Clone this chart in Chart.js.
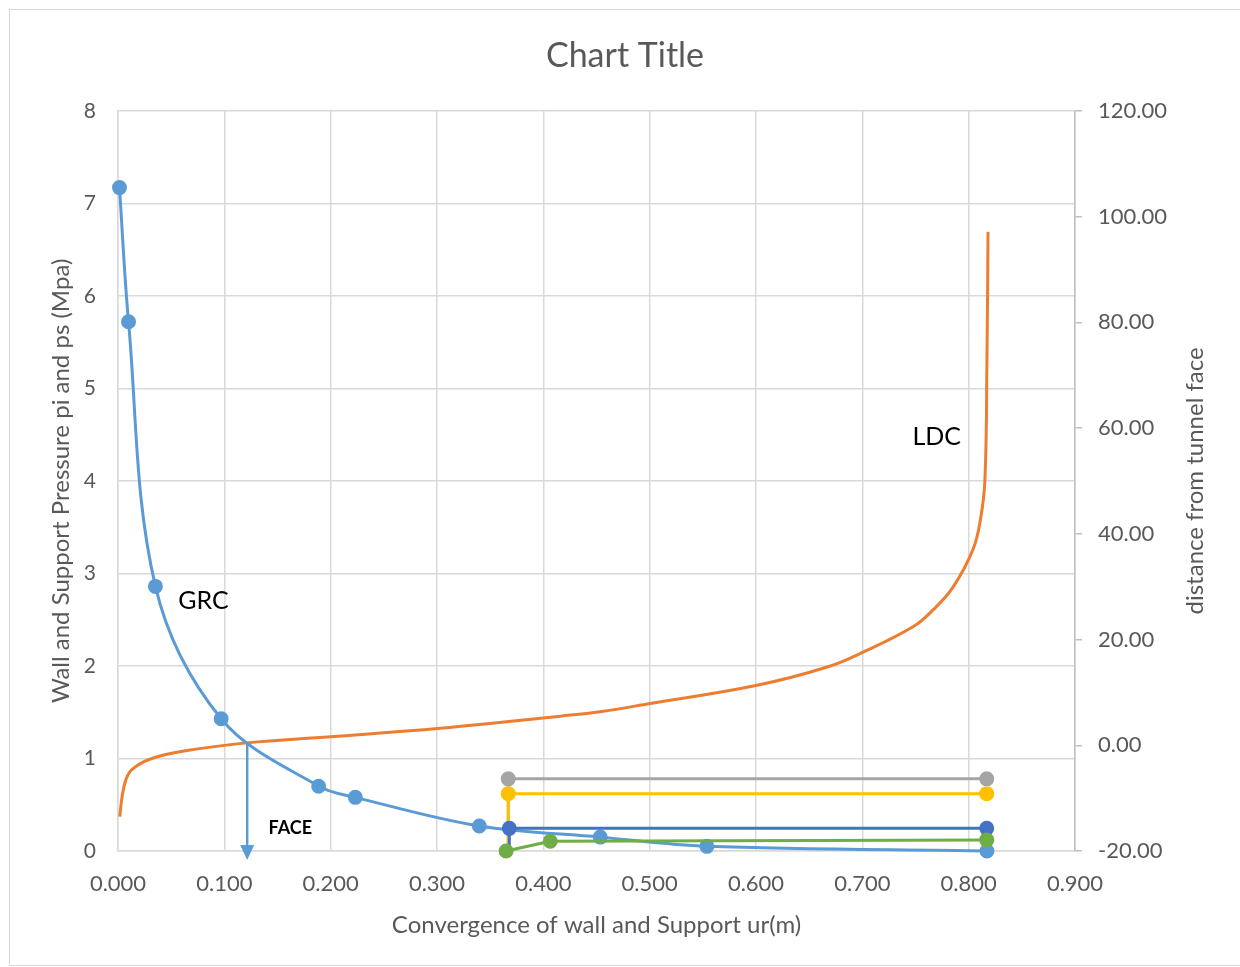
<!DOCTYPE html>
<html>
<head>
<meta charset="utf-8">
<title>GRC / LDC</title>
<script src="https://cdn.jsdelivr.net/npm/chart.js@4.4.1/dist/chart.umd.min.js"></script>
<style>
  body { margin: 0; background: #fff; }
  #frame { position: absolute; left: 9px; top: 9px; width: 1240px; height: 955px; border: 1px solid #d9d9d9; }
  #wrap { position: absolute; left: 0; top: 0; width: 1240px; height: 967px; }
</style>
</head>
<body>
<div id="frame"></div>
<div id="wrap"><canvas id="mycanvas"></canvas></div>
<script>
// ground reaction curve (MPa vs m)
var grcX = [0.0014, 0.0099, 0.0352, 0.097, 0.1887, 0.2232, 0.3398, 0.4535, 0.5538, 0.8172];
var grcY = [7.17, 5.72, 2.86, 1.43, 0.70, 0.58, 0.27, 0.15, 0.05, 0.0];

// longitudinal deformation profile (distance from face vs m)
var ldcX = [0.0017, 0.004, 0.0075, 0.013, 0.0305, 0.062, 0.121, 0.2, 0.303, 0.416, 0.4535, 0.5005,
            0.601, 0.667, 0.7006, 0.7476, 0.7665, 0.7853, 0.804, 0.811, 0.8153, 0.8172, 0.8182];
var ldcY = [-13.5, -9.5, -6.5, -4.6, -2.6, -1.1, 0.45, 1.6, 3.2, 5.5, 6.35, 7.9,
            11.35, 14.8, 17.6, 22.4, 25.6, 29.9, 37.0, 42.6, 50.2, 72.9, 97.1];

// support reaction lines
var grayX = [0.367, 0.367, 0.817];
var grayY = [0, 0.78, 0.78];
var yellowX = [0.367, 0.367, 0.817];
var yellowY = [0, 0.62, 0.62];
var dblueX = [0.368, 0.368, 0.817];
var dblueY = [0, 0.245, 0.245];
var greenX = [0.365, 0.4065, 0.817];
var greenY = [0, 0.105, 0.12];

var xTicks = [0, 0.9, 0.1];
var yTicks = [0, 8, 1];
var y2Ticks = [-20, 120, 20];

// face arrow + curve labels
var faceX = 0.1215, faceY = 1.17;
var notes = [
  { text: 'GRC', x: 0.0804, y: 2.70, bold: false, size: 25 },
  { text: 'LDC', x: 0.770, y: 4.48, bold: false, size: 25 },
  { text: 'FACE', x: 0.162, y: 0.25, bold: true, size: 18 }
];

function pts(xs, ys) {
  var out = [];
  for (var i in xs) out.push({ x: xs[i], y: ys[i] });
  return out;
}

var FONT = 'Lato, "Open Sans", sans-serif';
var GREY = '#595959';

var extras = {
  id: 'extras',
  afterDraw: function(chart) {
    var ctx = chart.ctx;
    var xs = chart.scales.x, ys = chart.scales.y;
    ctx.save();
    // arrow
    var ax = xs.getPixelForValue(faceX);
    var ay = ys.getPixelForValue(faceY);
    var tip = ys.getPixelForValue(0) + 9;
    ctx.strokeStyle = '#5B9BD5';
    ctx.fillStyle = '#5B9BD5';
    ctx.lineWidth = 2.5;
    ctx.beginPath();
    ctx.moveTo(ax, ay);
    ctx.lineTo(ax, tip - 12);
    ctx.stroke();
    ctx.beginPath();
    ctx.moveTo(ax - 7, tip - 15);
    ctx.lineTo(ax + 7, tip - 15);
    ctx.lineTo(ax, tip);
    ctx.closePath();
    ctx.fill();
    // labels
    ctx.fillStyle = '#000';
    ctx.textAlign = 'center';
    ctx.textBaseline = 'middle';
    notes.forEach(function(n) {
      ctx.font = (n.bold ? 'bold ' : '') + n.size + 'px ' + FONT;
      ctx.fillText(n.text, xs.getPixelForValue(n.x), ys.getPixelForValue(n.y));
    });
    // right axis title, reading bottom to top
    var ca = chart.chartArea;
    ctx.translate(ca.right + 120, (ca.top + ca.bottom) / 2);
    ctx.rotate(-Math.PI / 2);
    ctx.fillStyle = GREY;
    ctx.font = '24px ' + FONT;
    ctx.fillText('distance from tunnel face', 0, 0);
    ctx.restore();
  }
};

var ctx = document.getElementById('mycanvas');

new Chart(ctx, {
  type: 'line',
  data: {
    datasets: [
      { label: 'green', data: pts(greenX, greenY), borderColor: '#70AD47', backgroundColor: '#70AD47',
        borderWidth: 3, pointRadius: 6, yAxisID: 'y', order: 1, clip: 10 },
      { label: 'dblue', data: pts(dblueX, dblueY), borderColor: '#4472C4', backgroundColor: '#4472C4',
        borderWidth: 3, pointRadius: [0, 6, 6], yAxisID: 'y', order: 2, clip: 10 },
      { label: 'GRC', data: pts(grcX, grcY), borderColor: '#5B9BD5', backgroundColor: '#5B9BD5',
        borderWidth: 3, pointRadius: 6, tension: 0.35, yAxisID: 'y', order: 3, clip: 10 },
      { label: 'yellow', data: pts(yellowX, yellowY), borderColor: '#FFC000', backgroundColor: '#FFC000',
        borderWidth: 3, pointRadius: [0, 6, 6], yAxisID: 'y', order: 4, clip: 10 },
      { label: 'gray', data: pts(grayX, grayY), borderColor: '#A5A5A5', backgroundColor: '#A5A5A5',
        borderWidth: 3, pointRadius: [0, 6, 6], yAxisID: 'y', order: 5, clip: 10 },
      { label: 'LDC', data: pts(ldcX, ldcY), borderColor: '#ED7D31', backgroundColor: '#ED7D31',
        borderWidth: 3, pointRadius: 0, tension: 0.4, yAxisID: 'y2', order: 6 }
    ]
  },
  options: {
    responsive: true,
    maintainAspectRatio: false,
    animation: false,
    layout: { padding: { left: 10, right: 0, top: 0, bottom: 0 } },
    plugins: {
      legend: { display: false },
      tooltip: { enabled: false },
      title: {
        display: true, text: 'Chart Title', color: GREY,
        font: { family: FONT, size: 34, weight: 'normal' },
        padding: { top: 36, bottom: 34 }
      }
    },
    scales: {
      x: {
        type: 'linear', min: xTicks[0], max: xTicks[1],
        ticks: { stepSize: xTicks[2], color: GREY, padding: 20, font: { family: FONT, size: 22 },
                 callback: function(v) { return v.toFixed(3); } },
        grid: { color: '#d9d9d9', lineWidth: 1.5, drawTicks: false },
        border: { color: '#d9d9d9', width: 1.5 },
        title: { display: true, text: 'Convergence of wall and Support ur(m)', color: GREY,
                 font: { family: FONT, size: 24 }, padding: { top: 4, bottom: 27 } },
        afterFit: function(s) { s.height = 116; }
      },
      y: {
        position: 'left', min: yTicks[0], max: yTicks[1],
        ticks: { stepSize: yTicks[2], color: GREY, padding: 22, font: { family: FONT, size: 21 } },
        grid: { color: '#d9d9d9', lineWidth: 1.5, drawTicks: false },
        border: { color: '#d9d9d9', width: 1.5 },
        title: { display: true, text: 'Wall and Support Pressure pi and ps (Mpa)', color: GREY,
                 font: { family: FONT, size: 24 }, padding: { top: 37, bottom: 4 } },
        afterFit: function(s) { s.width = 108; }
      },
      y2: {
        position: 'right', min: y2Ticks[0], max: y2Ticks[1],
        ticks: { stepSize: y2Ticks[2], color: GREY, padding: 16, font: { family: FONT, size: 22 },
                 callback: function(v) { return v.toFixed(2); } },
        grid: { drawOnChartArea: false, color: '#bfbfbf', tickLength: 7, lineWidth: 1.5 },
        border: { color: '#bfbfbf', width: 1.5 },
        afterFit: function(s) { s.width = 165; }
      }
    }
  },
  plugins: [extras]
});
</script>
</body>
</html>
